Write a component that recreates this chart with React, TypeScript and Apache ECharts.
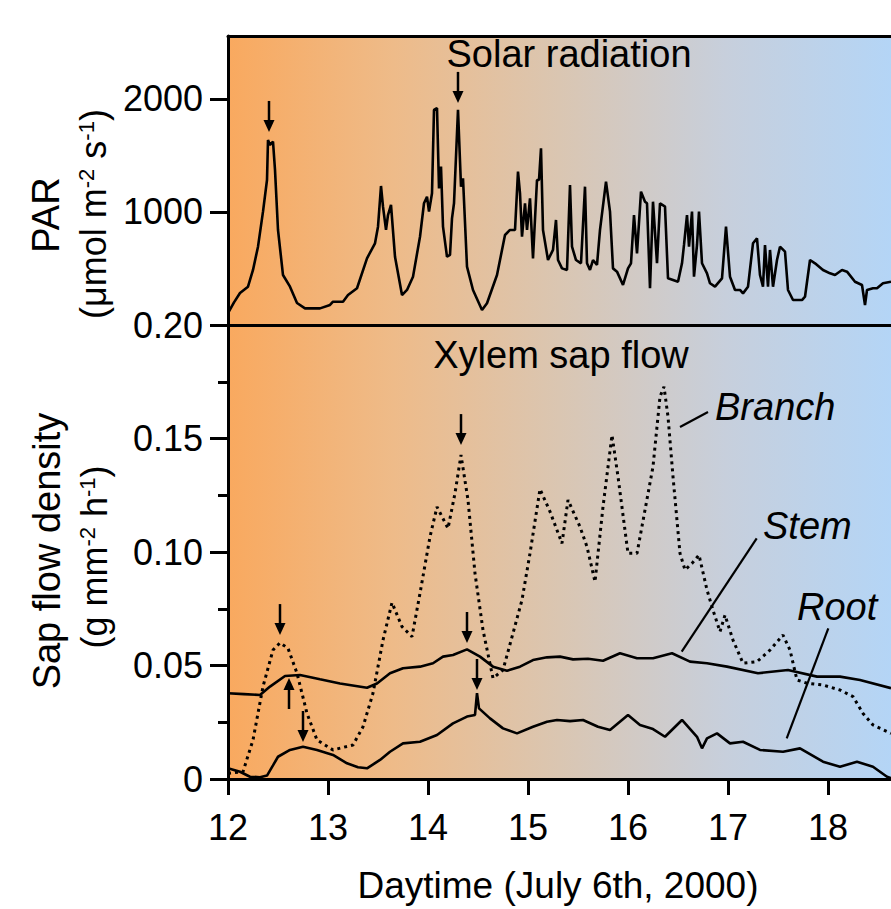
import React, { useEffect, useRef } from 'react';
import * as echarts from 'echarts';

// ---- Data (time of day in hours, value) ----
const parData: number[][] = [
  [12.00, 104], [12.06, 200], [12.12, 283], [12.20, 339], [12.25, 487], [12.30, 693], [12.35, 1003],
  [12.39, 1283], [12.40, 1637], [12.42, 1593], [12.45, 1622], [12.47, 1372], [12.50, 841], [12.55, 442],
  [12.62, 339], [12.69, 195], [12.77, 147], [12.92, 147], [13.02, 177], [13.05, 206], [13.15, 206],
  [13.20, 265], [13.29, 325], [13.39, 590], [13.47, 723], [13.50, 870], [13.53, 1230], [13.55, 1047],
  [13.58, 841], [13.60, 973], [13.63, 1062], [13.67, 604], [13.74, 265], [13.79, 310], [13.85, 427],
  [13.92, 781], [13.96, 1077], [13.99, 1135], [14.01, 1003], [14.04, 1165], [14.06, 1903], [14.09, 1920],
  [14.11, 1209], [14.13, 1401], [14.15, 870], [14.19, 604], [14.22, 620], [14.24, 944], [14.26, 1077],
  [14.30, 1903], [14.33, 1224], [14.35, 1298], [14.39, 516], [14.45, 310], [14.54, 133], [14.59, 192],
  [14.69, 442], [14.77, 796], [14.82, 841], [14.87, 841], [14.90, 1357], [14.92, 1165], [14.94, 781],
  [14.97, 1077], [14.99, 841], [15.02, 1121], [15.05, 590], [15.09, 1283], [15.11, 1283], [15.13, 1563],
  [15.15, 841], [15.20, 575], [15.25, 664], [15.28, 929], [15.30, 575], [15.34, 501], [15.39, 487],
  [15.42, 1239], [15.44, 693], [15.48, 575], [15.53, 546], [15.57, 1224], [15.59, 546], [15.62, 487],
  [15.65, 575], [15.69, 531], [15.72, 841], [15.78, 1268], [15.82, 1003], [15.85, 501], [15.89, 472],
  [15.95, 354], [16.00, 501], [16.03, 546], [16.06, 973], [16.09, 634], [16.13, 1180], [16.17, 1091],
  [16.19, 1077], [16.22, 325], [16.25, 1091], [16.29, 546], [16.32, 1077], [16.37, 1047], [16.40, 413],
  [16.45, 398], [16.50, 383], [16.54, 546], [16.56, 708], [16.59, 973], [16.61, 693], [16.64, 1003],
  [16.66, 427], [16.69, 708], [16.71, 1003], [16.74, 546], [16.79, 457], [16.82, 369], [16.87, 339],
  [16.94, 413], [16.98, 870], [17.02, 427], [17.07, 310], [17.12, 310], [17.15, 280], [17.20, 339],
  [17.25, 723], [17.29, 767], [17.32, 442], [17.35, 339], [17.37, 708], [17.40, 339], [17.42, 664],
  [17.45, 339], [17.49, 575], [17.52, 693], [17.57, 649], [17.60, 310], [17.65, 221], [17.74, 221],
  [17.77, 250], [17.82, 575], [17.87, 546], [17.95, 487], [18.02, 457], [18.07, 442], [18.14, 487],
  [18.19, 472], [18.27, 383], [18.34, 354], [18.37, 177], [18.39, 310], [18.45, 325], [18.49, 325],
  [18.55, 369], [18.63, 383],
];

const branchData: number[][] = [
  [12.00, 0.0025], [12.15, 0.0032], [12.25, 0.0172], [12.35, 0.0407], [12.45, 0.0568], [12.52, 0.0600],
  [12.60, 0.0576], [12.69, 0.0466], [12.79, 0.0289], [12.89, 0.0172], [13.05, 0.0128], [13.25, 0.0150],
  [13.35, 0.0230], [13.45, 0.0378], [13.55, 0.0612], [13.64, 0.0777], [13.74, 0.0671], [13.84, 0.0627],
  [13.92, 0.0818], [14.02, 0.1067], [14.09, 0.1199], [14.20, 0.1104], [14.27, 0.1259], [14.33, 0.1427],
  [14.40, 0.1229], [14.47, 0.0906], [14.55, 0.0656], [14.65, 0.0444], [14.75, 0.0480], [14.85, 0.0642],
  [14.94, 0.0789], [15.02, 0.0994], [15.12, 0.1277], [15.22, 0.1178], [15.34, 0.1038], [15.40, 0.1229],
  [15.52, 0.1111], [15.59, 0.1023], [15.67, 0.0869], [15.75, 0.1199], [15.84, 0.1515], [15.90, 0.1332],
  [16.00, 0.0994], [16.09, 0.0994], [16.17, 0.1185], [16.25, 0.1376], [16.32, 0.1684], [16.36, 0.1728],
  [16.40, 0.1596], [16.45, 0.1332], [16.52, 0.0994], [16.57, 0.0921], [16.64, 0.0950], [16.71, 0.0987],
  [16.79, 0.0833], [16.85, 0.0744], [16.92, 0.0649], [16.97, 0.0722], [17.05, 0.0612], [17.15, 0.0510],
  [17.29, 0.0517], [17.42, 0.0568], [17.55, 0.0634], [17.62, 0.0568], [17.69, 0.0436], [17.79, 0.0422],
  [17.95, 0.0414], [18.12, 0.0392], [18.25, 0.0363], [18.35, 0.0289], [18.45, 0.0238], [18.63, 0.0201],
];

const stemData: number[][] = [
  [12.00, 0.0378], [12.16, 0.0374], [12.32, 0.0370], [12.42, 0.0407], [12.57, 0.0454], [12.72, 0.0458],
  [12.92, 0.0439], [13.12, 0.0421], [13.39, 0.0402], [13.49, 0.0421], [13.62, 0.0466], [13.75, 0.0488],
  [13.92, 0.0495], [14.05, 0.0510], [14.15, 0.0539], [14.25, 0.0546], [14.39, 0.0571], [14.52, 0.0539],
  [14.65, 0.0495], [14.79, 0.0477], [14.92, 0.0495], [15.05, 0.0524], [15.19, 0.0536], [15.32, 0.0539],
  [15.45, 0.0527], [15.60, 0.0530], [15.75, 0.0521], [15.92, 0.0554], [16.09, 0.0532], [16.25, 0.0532],
  [16.44, 0.0554], [16.62, 0.0517], [16.79, 0.0510], [16.99, 0.0495], [17.30, 0.0466], [17.60, 0.0480],
  [17.89, 0.0451], [18.12, 0.0451], [18.32, 0.0436], [18.63, 0.0400],
];

const rootData: number[][] = [
  [12.00, 0.0047], [12.06, 0.0040], [12.12, 0.0032], [12.22, 0.0010], [12.32, 0.0008], [12.39, 0.0015],
  [12.45, 0.0060], [12.50, 0.0098], [12.62, 0.0128], [12.75, 0.0142], [12.89, 0.0128], [13.05, 0.0106],
  [13.19, 0.0069], [13.30, 0.0052], [13.39, 0.0047], [13.52, 0.0084], [13.62, 0.0120], [13.75, 0.0157],
  [13.92, 0.0164], [14.09, 0.0194], [14.25, 0.0245], [14.39, 0.0275], [14.47, 0.0282], [14.49, 0.0378],
  [14.51, 0.0311], [14.62, 0.0267], [14.75, 0.0223], [14.89, 0.0201], [15.05, 0.0230], [15.19, 0.0252],
  [15.29, 0.0260], [15.42, 0.0255], [15.55, 0.0260], [15.70, 0.0230], [15.82, 0.0216], [16.00, 0.0282],
  [16.12, 0.0238], [16.25, 0.0220], [16.37, 0.0186], [16.54, 0.0260], [16.69, 0.0186], [16.74, 0.0135],
  [16.79, 0.0179], [16.89, 0.0201], [17.02, 0.0157], [17.15, 0.0164], [17.32, 0.0128], [17.55, 0.0120],
  [17.72, 0.0135], [17.95, 0.0076], [18.12, 0.0054], [18.29, 0.0076], [18.45, 0.0054], [18.59, 0.0010],
  [18.63, 0.0004],
];

// arrow tips: [time, value, direction (1 = points down, -1 = points up)]
const parArrows: number[][] = [[12.41, 1708, 1], [14.30, 1965, 1]];
const sapArrows: number[][] = [
  [12.52, 0.0634, 1], [12.61, 0.0445, -1], [12.75, 0.0163, 1],
  [14.33, 0.1471, 1], [14.39, 0.0599, 1], [14.49, 0.0392, 1],
];
// leader lines for series labels: [t1, v1, t2, v2]
const leaderLines: number[][] = [
  [16.52, 0.1551, 16.80, 0.1617],
  [16.537, 0.0561, 17.287, 0.1060],
  [17.587, 0.0179, 18.003, 0.0664],
];

const xTickValues = [12, 13, 14, 15, 16, 17, 18];
const parLabelValues = [1000, 2000];
const parMinorValues = [500, 1500];

const FONT = '"Liberation Sans", Arial, Helvetica, sans-serif';
const BLACK = '#000';

const arrowRender = (params: any, api: any) => {
  const p = api.coord([api.value(0), api.value(1)]);
  const dir = api.value(2);
  const x = p[0];
  const tip = p[1];
  const len = 31;
  const head = 12;
  const hw = 5.5;
  const tail = tip - dir * len;
  const base = tip - dir * head;
  return {
    type: 'group',
    children: [
      { type: 'line', shape: { x1: x, y1: tail, x2: x, y2: base + dir * 1 }, style: { stroke: BLACK, lineWidth: 2.5 } },
      { type: 'polygon', shape: { points: [[x - hw, base], [x + hw, base], [x, tip]] }, style: { fill: BLACK } },
    ],
  };
};

const leaderRender = (params: any, api: any) => {
  const a = api.coord([api.value(0), api.value(1)]);
  const b = api.coord([api.value(2), api.value(3)]);
  return { type: 'line', shape: { x1: a[0], y1: a[1], x2: b[0], y2: b[1] }, style: { stroke: BLACK, lineWidth: 2.2 } };
};

const XMIN = 12;
const XMAX = 18.63;

function buildOption() {
  const axisLineStyle = { color: BLACK, width: 3 };
  const textBase = { fontFamily: FONT, fill: BLACK };
  const sup = { fontSize: 22, fontFamily: FONT, verticalAlign: 'top' as const, fill: BLACK };
  return {
    animation: false,
    backgroundColor: '#fff',
    grid: [
      { left: 228, top: 36, width: 663, height: 289 },
      { left: 228, top: 325, width: 663, height: 454 },
    ],
    xAxis: [
      {
        gridIndex: 0, type: 'value', min: XMIN, max: XMAX, position: 'bottom',
        axisLine: { show: true, onZero: false, lineStyle: axisLineStyle },
        axisTick: { show: false }, axisLabel: { show: false }, splitLine: { show: false },
      },
      {
        gridIndex: 0, type: 'value', min: XMIN, max: XMAX, position: 'top',
        axisLine: { show: true, onZero: false, lineStyle: axisLineStyle },
        axisTick: { show: false }, axisLabel: { show: false }, splitLine: { show: false },
      },
      {
        gridIndex: 1, type: 'value', min: XMIN, max: XMAX, interval: 1, position: 'bottom',
        axisLine: { show: true, onZero: false, lineStyle: axisLineStyle },
        axisTick: { show: true, customValues: xTickValues, length: 16, lineStyle: { color: BLACK, width: 3 } },
        axisLabel: {
          customValues: xTickValues, fontSize: 36, fontFamily: FONT, color: BLACK, margin: 30,
          formatter: (v: number) => String(Math.round(v)),
        },
        splitLine: { show: false },
      },
    ],
    yAxis: [
      {
        gridIndex: 0, type: 'value', min: 0, max: 2557,
        axisLine: { show: true, onZero: false, lineStyle: axisLineStyle },
        axisTick: { show: true, customValues: parLabelValues, length: 18, lineStyle: { color: BLACK, width: 3 } },
        axisLabel: {
          customValues: parLabelValues, fontSize: 36, fontFamily: FONT, color: BLACK, margin: 25,
          formatter: (v: number) => String(Math.round(v)),
        },
        splitLine: { show: false },
      },
      {
        gridIndex: 0, type: 'value', min: 0, max: 2557,
        axisLine: { show: false },
        axisTick: { show: true, customValues: parMinorValues, length: 10, lineStyle: { color: BLACK, width: 3 } },
        axisLabel: { show: false },
        splitLine: { show: false },
      },
      {
        gridIndex: 1, type: 'value', min: 0, max: 0.2, interval: 0.05,
        axisLine: { show: true, onZero: false, lineStyle: axisLineStyle },
        axisTick: { show: true, length: 18, lineStyle: { color: BLACK, width: 3 } },
        minorTick: { show: true, splitNumber: 2, length: 10, lineStyle: { color: BLACK, width: 3 } },
        axisLabel: {
          fontSize: 36, fontFamily: FONT, color: BLACK, margin: 25,
          formatter: (v: number) => (Math.abs(v) < 1e-9 ? '0' : v.toFixed(2)),
        },
        splitLine: { show: false },
        minorSplitLine: { show: false },
      },
    ],
    series: [
      {
        type: 'line', name: 'PAR', xAxisIndex: 0, yAxisIndex: 0, data: parData,
        showSymbol: false, symbol: 'none', lineStyle: { color: BLACK, width: 2.6 }, z: 3,
      },
      {
        type: 'line', name: 'Branch', xAxisIndex: 2, yAxisIndex: 2, data: branchData,
        showSymbol: false, symbol: 'none', lineStyle: { color: BLACK, width: 3, type: [3, 4] }, z: 3,
      },
      {
        type: 'line', name: 'Stem', xAxisIndex: 2, yAxisIndex: 2, data: stemData,
        showSymbol: false, symbol: 'none', lineStyle: { color: BLACK, width: 2.6 }, z: 3,
      },
      {
        type: 'line', name: 'Root', xAxisIndex: 2, yAxisIndex: 2, data: rootData,
        showSymbol: false, symbol: 'none', lineStyle: { color: BLACK, width: 2.6 }, z: 3,
      },
      {
        type: 'custom', name: 'parArrows', xAxisIndex: 0, yAxisIndex: 0, data: parArrows,
        renderItem: arrowRender, clip: false, z: 4,
      },
      {
        type: 'custom', name: 'sapArrows', xAxisIndex: 2, yAxisIndex: 2, data: sapArrows,
        renderItem: arrowRender, clip: false, z: 4,
      },
      {
        type: 'custom', name: 'leaders', xAxisIndex: 2, yAxisIndex: 2, data: leaderLines,
        encode: { x: [0, 2], y: [1, 3] },
        renderItem: leaderRender, clip: false, z: 4,
      },
    ],
    graphic: [
      {
        type: 'rect', z: -10, silent: true,
        shape: { x: 228, y: 36, width: 663, height: 743 },
        style: {
          fill: new echarts.graphic.LinearGradient(0, 0, 1, 0, [
            { offset: 0, color: '#F9A95F' },
            { offset: 0.25, color: '#EEBB89' },
            { offset: 0.5, color: '#DAC6B2' },
            { offset: 0.75, color: '#C7CFDC' },
            { offset: 1, color: '#B4D5F6' },
          ]),
        },
      },
      { type: 'text', x: 569, y: 54, style: { ...textBase, text: 'Solar radiation', fontSize: 38, align: 'center', verticalAlign: 'middle' } },
      { type: 'text', x: 561, y: 355, style: { ...textBase, text: 'Xylem sap flow', fontSize: 38, align: 'center', verticalAlign: 'middle' } },
      { type: 'text', x: 715, y: 407, style: { ...textBase, text: 'Branch', fontSize: 38, fontStyle: 'italic', align: 'left', verticalAlign: 'middle' } },
      { type: 'text', x: 763, y: 526, style: { ...textBase, text: 'Stem', fontSize: 38, fontStyle: 'italic', align: 'left', verticalAlign: 'middle' } },
      { type: 'text', x: 797, y: 607, style: { ...textBase, text: 'Root', fontSize: 38, fontStyle: 'italic', align: 'left', verticalAlign: 'middle' } },
      { type: 'text', x: 558, y: 885, style: { ...textBase, text: 'Daytime (July 6th, 2000)', fontSize: 37, align: 'center', verticalAlign: 'middle' } },
      { type: 'text', x: 46, y: 215, rotation: Math.PI / 2, style: { ...textBase, text: 'PAR', fontSize: 38, align: 'center', verticalAlign: 'middle' } },
      {
        type: 'text', x: 93, y: 214, rotation: Math.PI / 2,
        style: {
          ...textBase, text: '(μmol m{sup|-2} s{sup|-1})', fontSize: 36, align: 'center', verticalAlign: 'middle',
          rich: { sup },
        },
      },
      { type: 'text', x: 47, y: 551, rotation: Math.PI / 2, style: { ...textBase, text: 'Sap flow density', fontSize: 38, align: 'center', verticalAlign: 'middle' } },
      {
        type: 'text', x: 94, y: 557, rotation: Math.PI / 2,
        style: {
          ...textBase, text: '(g mm{sup|-2} h{sup|-1})', fontSize: 36, align: 'center', verticalAlign: 'middle',
          rich: { sup },
        },
      },
    ],
  };
}

export default function App() {
  const ref = useRef<HTMLDivElement>(null);
  useEffect(() => {
    document.body.style.margin = '0';
    const chart = echarts.init(ref.current as HTMLDivElement, null, { renderer: 'svg' });
    chart.setOption(buildOption() as any);
    return () => chart.dispose();
  }, []);
  return <div ref={ref} style={{ position: 'absolute', left: 0, top: 0, width: 891, height: 909 }} />;
}
